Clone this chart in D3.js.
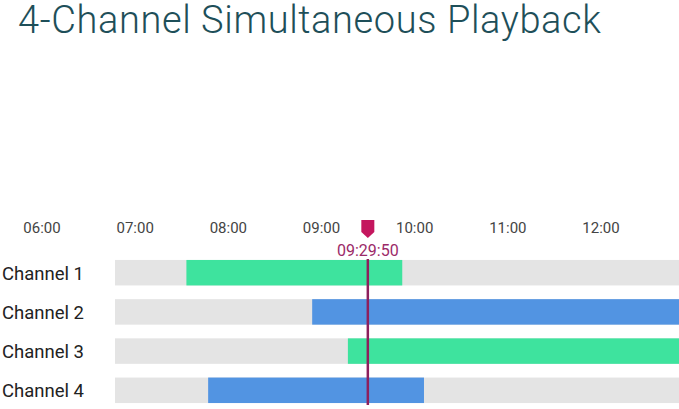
<!DOCTYPE html><html><head><meta charset="utf-8"><script src="https://cdn.jsdelivr.net/npm/d3@7"></script>
<style>body{margin:0;background:#fff}text{font-family:Roboto,"Noto Sans",sans-serif}</style></head><body>
<svg id="c" width="679" height="409"></svg>
<script>
const tickLabels=["06:00","07:00","08:00","09:00","10:00","11:00","12:00"];
const channels=["Channel 1","Channel 2","Channel 3","Channel 4"];
const starts=["07:33","08:54","09:17","07:47"];
const ends=["09:52","13:00","13:00","10:06"];
const colors=["#3ee39e","#5294e2","#3ee39e","#5294e2"];
const cursorTime="09:29:50";
const trackStart="06:47";
const h=s=>{const p=s.split(":").map(Number);return p[0]+p[1]/60+(p[2]||0)/3600;};
const svg=d3.select("#c");
const x=d3.scaleLinear().domain([6,12]).range([42,601]);
const y=d3.scaleBand().domain(channels).range([258,405]).paddingInner(0.35).paddingOuter(0.05);
svg.append("text").attr("x",18).attr("y",33).attr("font-size",38).attr("font-weight",300).attr("letter-spacing",0.6).attr("fill","#1e4f59").text("4-Channel Simultaneous Playback");
svg.selectAll(".tk").data(tickLabels).join("text").attr("x",d=>x(h(d))).attr("y",233).attr("text-anchor","middle").attr("font-size",15).attr("fill","#444").text(d=>d);
svg.selectAll(".tr").data(channels).join("rect").attr("x",x(h(trackStart))).attr("width",679-x(h(trackStart))).attr("y",d=>y(d)).attr("height",y.bandwidth()).attr("fill","#e4e4e4");
svg.selectAll(".bar").data(channels).join("rect").attr("x",(d,i)=>x(h(starts[i]))).attr("width",(d,i)=>Math.min(679,x(h(ends[i])))-x(h(starts[i]))).attr("y",d=>y(d)).attr("height",y.bandwidth()).attr("fill",(d,i)=>colors[i]);
svg.selectAll(".lb").data(channels).join("text").attr("x",2).attr("y",d=>y(d)+y.bandwidth()/2+7).attr("font-size",18.5).attr("fill","#222").text(d=>d);
const cx=x(h(cursorTime));
svg.append("line").attr("x1",cx).attr("x2",cx).attr("y1",259).attr("y2",405).attr("stroke","#8e1f5c").attr("stroke-width",2.5);
svg.append("path").attr("d",`M${cx-6.5},220H${cx+6.5}V232L${cx},238L${cx-6.5},232Z`).attr("fill","#c4165e");
svg.append("text").attr("x",cx).attr("y",256).attr("text-anchor","middle").attr("font-size",16).attr("fill","#9b2a68").text(cursorTime);
</script></body></html>
